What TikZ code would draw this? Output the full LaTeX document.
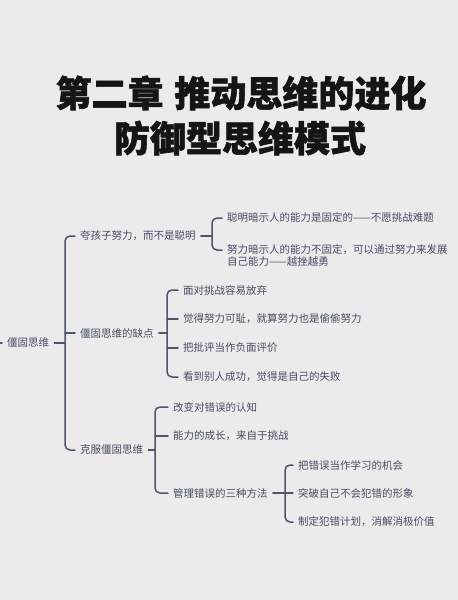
\documentclass[tikz,border=0pt]{standalone}
\usepackage{fontspec}
\newfontfamily\cjk{Noto Sans CJK SC}
\newfontfamily\cjkt[BoldFeatures={FakeBold=1.5}]{Noto Sans CJK SC}
\definecolor{bg}{HTML}{EBEBEB}
\definecolor{txt}{HTML}{464C63}
\definecolor{lnc}{HTML}{4D556B}
\definecolor{ttl}{HTML}{151515}
\begin{document}
\begin{tikzpicture}[x=1pt,y=-1pt,
  lbl/.style={anchor=west,inner xsep=5pt,inner ysep=1pt,text=txt,font=\cjk\fontsize{10.5}{12}\selectfont},
  ttlstyle/.style={anchor=center,inner sep=0pt,text=ttl,font=\cjkt\bfseries\fontsize{36}{40}\selectfont},
  ln/.style={line width=1.5pt,draw=lnc,rounded corners=5pt,line cap=round}]
\fill[bg] (0,0) rectangle (458,600);
\useasboundingbox (0,0) rectangle (458,600);
% title
\node[ttlstyle] (t1) at (241,93) {第二章\hspace{0.3em}推动思维的进化};
\node[ttlstyle] (t2) at (240,138) {防御型思维模式};
% root
\node[lbl] (root) at (2,343) {僵固思维};
\coordinate (e0) at (-1,343);
% level 1
\node[lbl] (b1) at (75,236) {夸孩子努力，而不是聪明};
\node[lbl] (b2) at (75,333) {僵固思维的缺点};
\node[lbl] (b3) at (75,450) {克服僵固思维};
% children of b1
\node[lbl] (c11) at (222,218) {聪明暗示人的能力是固定的——不愿挑战难题};
\node[lbl,anchor=north west,align=left] (c12) at (222,243) {努力暗示人的能力不固定，可以通过努力来发展\\自己能力——越挫越勇};
\coordinate (h12) at (222,250);
% children of b2
\node[lbl] (d1) at (178,290) {面对挑战容易放弃};
\node[lbl] (d2) at (178,319) {觉得努力可耻，就算努力也是偷偷努力};
\node[lbl] (d3) at (178,348) {把批评当作负面评价};
\node[lbl] (d4) at (178,377) {看到别人成功，觉得是自己的失败};
% children of b3
\node[lbl] (f1) at (168,407) {改变对错误的认知};
\node[lbl] (f2) at (168,436) {能力的成长，来自于挑战};
\node[lbl] (f3) at (168,493) {管理错误的三种方法};
% children of f3
\node[lbl] (g1) at (293,465) {把错误当作学习的机会};
\node[lbl] (g2) at (293,493) {突破自己不会犯错的形象};
\node[lbl] (g3) at (293,522) {制定犯错计划，消解消极价值};
% spine coordinates
\coordinate (s0) at (65,0);
\coordinate (s1) at (212,0);
\coordinate (s2) at (167,0);
\coordinate (s3) at (155,0);
\coordinate (s4) at (285,0);
% connectors
\draw[ln] (e0) -- (root.west);
\draw[ln] (root.east) -- (root.east -| s0);
\draw[ln] (b1.west) -| (s0 |- b3.west) -- (b3.west);
\draw[ln] (b2.west -| s0) -- (b2.west);
\draw[ln] (b1.east) -- (b1.east -| s1);
\draw[ln] (c11.west) -| (s1 |- h12) -- (h12);
\draw[ln] (b2.east) -- (b2.east -| s2);
\draw[ln] (d1.west) -| (s2 |- d4.west) -- (d4.west);
\draw[ln] (d2.west -| s2) -- (d2.west);
\draw[ln] (d3.west -| s2) -- (d3.west);
\draw[ln] (b3.east) -- (b3.east -| s3);
\draw[ln] (f1.west) -| (s3 |- f3.west) -- (f3.west);
\draw[ln] (f2.west -| s3) -- (f2.west);
\draw[ln] (f3.east) -- (g2.west);
\draw[ln] (g1.west) -| (s4 |- g3.west) -- (g3.west);
\end{tikzpicture}
\end{document}
